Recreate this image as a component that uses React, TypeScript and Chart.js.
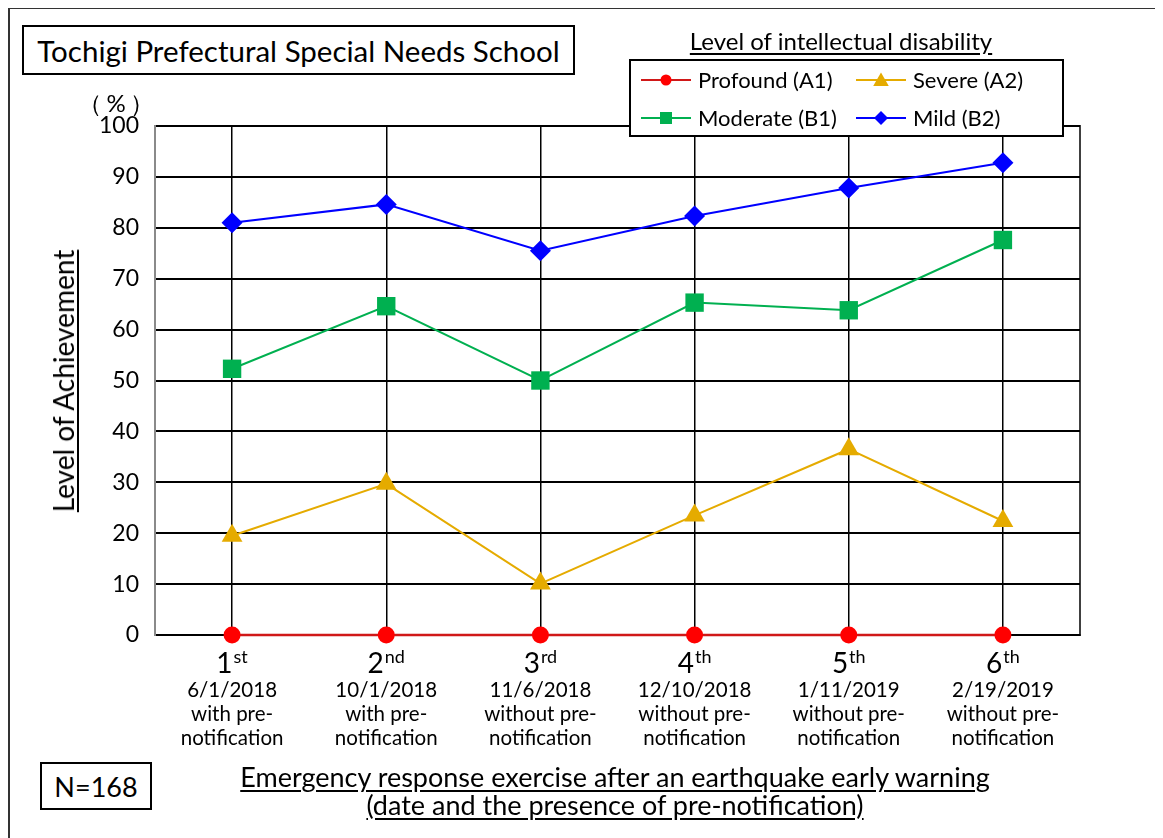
import React, { useEffect, useRef } from 'react';
import { Chart, registerables } from 'chart.js';

Chart.register(...registerables);

const FONT = 'Lato, "Open Sans", sans-serif';

// ---- data ----
const ordinals = ['1', '2', '3', '4', '5', '6'];
const ordinalSuffixes = ['st', 'nd', 'rd', 'th', 'th', 'th'];
const dates = ['6/1/2018', '10/1/2018', '11/6/2018', '12/10/2018', '1/11/2019', '2/19/2019'];
const notices = ['with pre-', 'with pre-', 'without pre-', 'without pre-', 'without pre-', 'without pre-'];
const noticeTail = 'notification';
const seriesNames = ['Profound (A1)', 'Severe (A2)', 'Moderate (B1)', 'Mild (B2)'];
const profound = [0, 0, 0, 0, 0, 0];
const severe = [19.5, 29.7, 10.1, 23.5, 36.5, 22.4];
const moderate = [52.3, 64.6, 50.0, 65.3, 63.8, 77.6];
const mild = [81.0, 84.6, 75.5, 82.3, 87.8, 92.8];
const yMin = 0;
const yMax = 100;
const yStep = 10;

const chartTitle = 'Tochigi Prefectural Special Needs School';
const legendTitle = 'Level of intellectual disability';
const yUnit = '（%）';
const yTitle = 'Level of Achievement';
const sampleSize = 'N=168';
const xTitleLines = ['Emergency response exercise after an earthquake early warning', '(date and the presence of pre-notification)'];

function drawMarker(ctx: CanvasRenderingContext2D, style: string, x: number, y: number, r: number, color: string) {
  ctx.save();
  ctx.fillStyle = color;
  ctx.beginPath();
  if (style === 'circle') {
    ctx.arc(x, y, r, 0, Math.PI * 2);
  } else if (style === 'triangle') {
    const h = r * 1.5;
    ctx.moveTo(x, y - h * 0.55);
    ctx.lineTo(x + r * 0.866, y + h * 0.45);
    ctx.lineTo(x - r * 0.866, y + h * 0.45);
    ctx.closePath();
  } else if (style === 'rect') {
    ctx.rect(x - r, y - r, 2 * r, 2 * r);
  } else if (style === 'rectRot') {
    ctx.moveTo(x, y - r);
    ctx.lineTo(x + r, y);
    ctx.lineTo(x, y + r);
    ctx.lineTo(x - r, y);
    ctx.closePath();
  }
  ctx.fill();
  ctx.restore();
}

const legendMarkerSize: Record<string, number> = { circle: 5.5, triangle: 9, rect: 6, rectRot: 7 };

const legendPlugin = {
  id: 'customLegend',
  afterDraw(chart: any) {
    const ctx: CanvasRenderingContext2D = chart.ctx;
    const bx = 622, by = 52, bw = 433, bh = 76;
    ctx.save();
    ctx.strokeStyle = '#000';
    ctx.lineWidth = 2;
    ctx.fillStyle = '#fff';
    ctx.fillRect(bx, by, bw, bh);
    ctx.strokeRect(bx, by, bw, bh);
    const cols = [633, 848];
    const rows = [72, 110];
    chart.data.datasets.forEach((ds: any, i: number) => {
      const cx = cols[i % 2];
      const cy = rows[Math.floor(i / 2)];
      ctx.strokeStyle = ds.borderColor;
      ctx.lineWidth = 2;
      ctx.beginPath();
      ctx.moveTo(cx, cy);
      ctx.lineTo(cx + 50, cy);
      ctx.stroke();
      drawMarker(ctx, ds.pointStyle, cx + 25, cy, legendMarkerSize[ds.pointStyle], ds.pointBackgroundColor);
      ctx.fillStyle = '#000';
      ctx.font = `22px ${FONT}`;
      ctx.textAlign = 'left';
      ctx.textBaseline = 'middle';
      ctx.fillText(ds.label, cx + 57, cy + 1);
    });
    ctx.restore();
  },
};

const xLabelPlugin = {
  id: 'xLabels',
  afterDraw(chart: any) {
    const ctx: CanvasRenderingContext2D = chart.ctx;
    const xs = chart.scales.x;
    const bottom = chart.chartArea.bottom;
    ctx.save();
    ctx.fillStyle = '#000';
    ctx.textBaseline = 'alphabetic';
    ordinals.forEach((o, i) => {
      const x = xs.getPixelForValue(i);
      ctx.font = `28px ${FONT}`;
      const w1 = ctx.measureText(o).width;
      ctx.font = `18px ${FONT}`;
      const w2 = ctx.measureText(ordinalSuffixes[i]).width;
      const left = x - (w1 + w2 + 1) / 2;
      ctx.textAlign = 'left';
      ctx.font = `28px ${FONT}`;
      ctx.fillText(o, left, bottom + 38);
      ctx.font = `18px ${FONT}`;
      ctx.fillText(ordinalSuffixes[i], left + w1 + 1, bottom + 28);
      ctx.textAlign = 'center';
      ctx.font = `20.5px ${FONT}`;
      ctx.fillText(dates[i], x, bottom + 62);
      ctx.fillText(notices[i], x, bottom + 86);
      ctx.fillText(noticeTail, x, bottom + 110);
    });
    ctx.restore();
  },
};

const rightBorderPlugin = {
  id: 'rightBorder',
  beforeDatasetsDraw(chart: any) {
    const { ctx, chartArea } = chart;
    ctx.save();
    ctx.strokeStyle = '#000';
    ctx.lineWidth = 1.5;
    ctx.beginPath();
    ctx.moveTo(chartArea.right, chartArea.top - 1);
    ctx.lineTo(chartArea.right, chartArea.bottom + 1);
    ctx.stroke();
    ctx.restore();
  },
};

export default function App() {
  const canvasRef = useRef<HTMLCanvasElement | null>(null);

  useEffect(() => {
    document.documentElement.style.overflow = 'hidden';
    const canvas = canvasRef.current;
    if (!canvas) return;
    const chart = new Chart(canvas, {
      type: 'line',
      data: {
        labels: ordinals.map((o, i) => o + ordinalSuffixes[i]),
        datasets: [
          {
            label: seriesNames[0],
            data: profound,
            borderColor: '#D01818',
            borderWidth: 2.5,
            pointStyle: 'circle',
            pointRadius: 8.5,
            pointBackgroundColor: '#FF0000',
            pointBorderColor: '#FF0000',
            pointBorderWidth: 0,
            clip: false,
          },
          {
            label: seriesNames[1],
            data: severe,
            borderColor: '#E5AB00',
            borderWidth: 2,
            pointStyle: 'triangle',
            pointRadius: 12,
            pointBackgroundColor: '#E5AB00',
            pointBorderColor: '#E5AB00',
            pointBorderWidth: 0,
            clip: false,
          },
          {
            label: seriesNames[2],
            data: moderate,
            borderColor: '#00B050',
            borderWidth: 2,
            pointStyle: 'rect',
            pointRadius: 13,
            pointBackgroundColor: '#00B050',
            pointBorderColor: '#00B050',
            pointBorderWidth: 0,
            clip: false,
          },
          {
            label: seriesNames[3],
            data: mild,
            borderColor: '#0000FF',
            borderWidth: 2,
            pointStyle: 'rectRot',
            pointRadius: 10.5,
            pointBackgroundColor: '#0000FF',
            pointBorderColor: '#0000FF',
            pointBorderWidth: 0,
            clip: false,
          },
        ],
      },
      options: {
        animation: false,
        responsive: true,
        maintainAspectRatio: false,
        events: [],
        layout: { padding: { top: 118, right: 83, left: 0, bottom: 0 } },
        plugins: {
          legend: { display: false },
          tooltip: { enabled: false },
          title: { display: false },
        },
        scales: {
          x: {
            type: 'category',
            offset: true,
            grid: { offset: false, color: '#000', lineWidth: 1.5, drawTicks: false },
            border: { display: true, color: '#000', width: 2 },
            ticks: { display: false },
            afterFit: (s: any) => {
              s.height = 203;
            },
          },
          y: {
            min: yMin,
            max: yMax,
            ticks: {
              stepSize: yStep,
              color: '#000',
              padding: 16,
              font: { family: FONT, size: 23 },
            },
            grid: { color: '#000', lineWidth: 2, drawTicks: false },
            border: { display: true, color: '#8a8a8a', width: 2 },
            afterFit: (s: any) => {
              s.width = 147;
            },
          },
        },
      },
      plugins: [rightBorderPlugin, xLabelPlugin, legendPlugin],
    } as any);
    return () => chart.destroy();
  }, []);

  const boxText: React.CSSProperties = {
    position: 'absolute',
    boxSizing: 'border-box',
    border: '2px solid #000',
    display: 'flex',
    alignItems: 'center',
    justifyContent: 'center',
    fontFamily: FONT,
    color: '#000',
    background: '#fff',
    whiteSpace: 'nowrap',
  };

  return (
    <div style={{ position: 'relative', width: 1155, height: 830, fontFamily: FONT, color: '#000' }}>
      <div
        style={{
          position: 'absolute',
          left: 0,
          top: -1,
          width: 1300,
          height: 900,
          borderLeft: '2px solid #333',
          borderTop: '2px solid #333',
          boxSizing: 'border-box',
        }}
      />
      <div style={{ position: 'absolute', left: 0, top: 0, width: 1155, height: 830 }}>
        <canvas ref={canvasRef} />
      </div>
      <div style={{ ...boxText, left: 14, top: 17, width: 553, height: 50, fontSize: 29.5 }}>{chartTitle}</div>
      <div
        style={{
          position: 'absolute',
          left: 833,
          top: 19,
          transform: 'translateX(-50%)',
          fontSize: 24,
          lineHeight: '28px',
          whiteSpace: 'nowrap',
          textDecoration: 'underline',
          textUnderlineOffset: 3,
        }}
      >
        {legendTitle}
      </div>
      <div
        style={{
          position: 'absolute',
          left: 108,
          top: 95,
          transform: 'translate(-50%, -50%)',
          fontSize: 24,
          lineHeight: '28px',
          letterSpacing: 4,
          paddingLeft: 4,
          whiteSpace: 'nowrap',
        }}
      >
        {yUnit}
      </div>
      <div
        style={{
          position: 'absolute',
          left: 55,
          top: 381 - 8,
          transform: 'translate(-50%, -50%) rotate(-90deg)',
          fontSize: 28,
          lineHeight: '32px',
          whiteSpace: 'nowrap',
          textDecoration: 'underline',
          textUnderlineOffset: 3,
        }}
      >
        {yTitle}
      </div>
      <div style={{ ...boxText, left: 32, top: 754, width: 112, height: 48, fontSize: 27 }}>{sampleSize}</div>
      <div
        style={{
          position: 'absolute',
          left: 607,
          top: 755,
          transform: 'translateX(-50%)',
          fontSize: 27,
          lineHeight: '28px',
          whiteSpace: 'nowrap',
          textAlign: 'center',
          textDecoration: 'underline',
          textUnderlineOffset: 3,
        }}
      >
        {xTitleLines.map((l) => (
          <div key={l}>{l}</div>
        ))}
      </div>
    </div>
  );
}
